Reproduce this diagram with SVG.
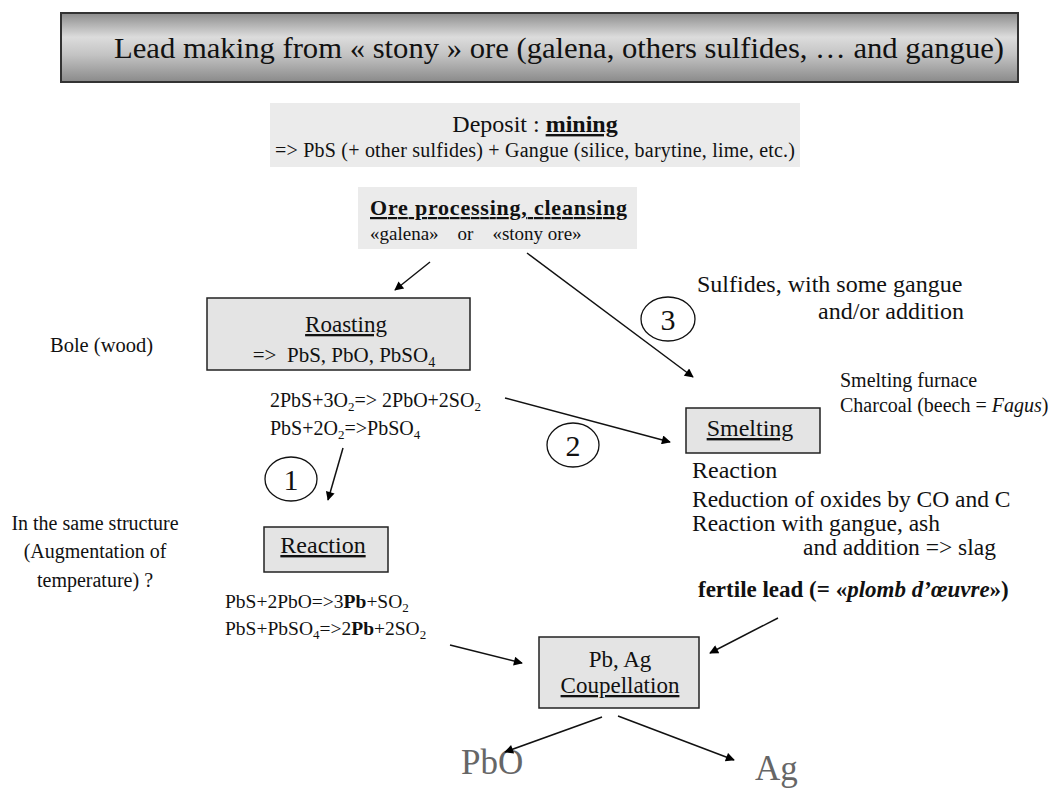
<svg xmlns="http://www.w3.org/2000/svg" width="1055" height="789" viewBox="0 0 1055 789">
<defs>
<linearGradient id="tg" x1="0" y1="0" x2="0" y2="1">
<stop offset="0" stop-color="#8c8c8c"/>
<stop offset="0.35" stop-color="#dcdcdc"/>
<stop offset="0.6" stop-color="#c4c4c4"/>
<stop offset="1" stop-color="#8a8a8a"/>
</linearGradient>
<marker id="ah" viewBox="0 0 10 10" refX="9" refY="5" markerWidth="11" markerHeight="9" markerUnits="userSpaceOnUse" orient="auto">
<path d="M0,0 L10,5 L0,10 z" fill="#000"/>
</marker>
<style>
text{font-family:"Liberation Serif","Times New Roman",Times,"DejaVu Serif",serif;fill:#111}
.box{fill:#e4e4e4;stroke:#222;stroke-width:1.5}
.pale{fill:#ebebeb;stroke:none}
.u{text-decoration:underline}
.c{text-anchor:middle}
.conn line{stroke:#111;stroke-width:1.5;marker-end:url(#ah)}
.circ{fill:none;stroke:#111;stroke-width:1.3}
.grey{fill:#666}
</style>
</defs>
<rect width="1055" height="789" fill="#fff"/>

<g id="title">
<rect x="61" y="13" width="957" height="69" fill="url(#tg)" stroke="#333" stroke-width="2"/>
<text x="559" y="58" class="c" font-family="Liberation Serif, serif" font-size="30" textLength="890" lengthAdjust="spacingAndGlyphs">Lead making from « stony » ore (galena, others sulfides, … and gangue)</text>
</g>

<g id="deposit">
<rect class="pale" x="270" y="103" width="530" height="64"/>
<text x="535" y="132" class="c" font-family="Liberation Serif, serif" font-size="24">Deposit : <tspan font-weight="bold" class="u">mining</tspan></text>
<text x="535" y="157" class="c" font-family="Liberation Serif, serif" font-size="20" textLength="520">=&gt; PbS (+ other sulfides) + Gangue (silice, barytine, lime, etc.)</text>
</g>

<g id="ore">
<rect class="pale" x="358" y="187" width="279" height="62"/>
<text x="370" y="215" font-family="Liberation Serif, serif" font-size="22" font-weight="bold" class="u" textLength="257">Ore processing, cleansing</text>
<text x="370" y="240" font-family="Liberation Serif, serif" font-size="19" xml:space="preserve">«galena»    or    «stony ore»</text>
</g>

<g id="roasting">
<rect class="box" x="207" y="298" width="263" height="72"/>
<text x="346" y="332" class="c u" font-family="Liberation Serif, serif" font-size="23">Roasting</text>
<text x="344" y="362" class="c" font-family="Liberation Serif, serif" font-size="21" xml:space="preserve">=&gt;  PbS, PbO, PbSO<tspan font-size="14" dy="5">4</tspan></text>
</g>

<g id="bole">
<text x="50" y="352" font-family="Liberation Serif, serif" font-size="20.5">Bole (wood)</text>
</g>

<g id="roast-eq">
<text x="270" y="407" font-family="Liberation Serif, serif" font-size="20">2PbS+3O<tspan font-size="13" dy="4">2</tspan><tspan dy="-4">=&gt; 2PbO+2SO</tspan><tspan font-size="13" dy="4">2</tspan></text>
<text x="270" y="435" font-family="Liberation Serif, serif" font-size="20">PbS+2O<tspan font-size="13" dy="4">2</tspan><tspan dy="-4">=&gt;PbSO</tspan><tspan font-size="13" dy="4">4</tspan></text>
</g>

<g id="step1">
<ellipse class="circ" cx="291" cy="479" rx="26" ry="22"/>
<text x="291" y="490" class="c" font-family="Liberation Serif, serif" font-size="30">1</text>
</g>
<g id="step2">
<ellipse class="circ" cx="573" cy="445" rx="26" ry="22"/>
<text x="573" y="456" class="c" font-family="Liberation Serif, serif" font-size="30">2</text>
</g>
<g id="step3">
<ellipse class="circ" cx="668" cy="319" rx="27" ry="22"/>
<text x="668" y="330" class="c" font-family="Liberation Serif, serif" font-size="30">3</text>
</g>

<g id="sulfides">
<text x="697" y="292" font-family="Liberation Serif, serif" font-size="24">Sulfides, with some gangue</text>
<text x="964" y="319" font-family="Liberation Serif, serif" font-size="24" text-anchor="end">and/or addition</text>
</g>

<g id="furnace">
<text x="840" y="387" font-family="Liberation Serif, serif" font-size="20">Smelting furnace</text>
<text x="840" y="412" font-family="Liberation Serif, serif" font-size="20">Charcoal (beech = <tspan font-style="italic">Fagus</tspan>)</text>
</g>

<g id="smelting">
<rect class="box" x="686" y="408" width="134" height="45"/>
<text x="750" y="436" class="c u" font-family="Liberation Serif, serif" font-size="24">Smelting</text>
</g>

<g id="smelt-reaction">
<text x="692" y="478" font-family="Liberation Serif, serif" font-size="24">Reaction</text>
<text x="692" y="507" font-family="Liberation Serif, serif" font-size="23.5">Reduction of oxides by CO and C</text>
<text x="692" y="531" font-family="Liberation Serif, serif" font-size="23.5">Reaction with gangue, ash</text>
<text x="803" y="555" font-family="Liberation Serif, serif" font-size="23.5">and addition =&gt; slag</text>
</g>

<g id="fertile">
<text x="698" y="597" font-family="Liberation Serif, serif" font-size="23" font-weight="bold">fertile lead (= «<tspan font-style="italic">plomb d’œuvre</tspan>»)</text>
</g>

<g id="reaction">
<rect class="box" x="264" y="527" width="124" height="45"/>
<text x="323" y="553" class="c u" font-family="Liberation Serif, serif" font-size="24">Reaction</text>
</g>

<g id="same">
<text x="95" y="530" class="c" font-family="Liberation Serif, serif" font-size="20">In the same structure</text>
<text x="95" y="558" class="c" font-family="Liberation Serif, serif" font-size="20">(Augmentation of</text>
<text x="95" y="587" class="c" font-family="Liberation Serif, serif" font-size="20">temperature) ?</text>
</g>

<g id="reaction-eq">
<text x="225" y="608" font-family="Liberation Serif, serif" font-size="19.5">PbS+2PbO=&gt;3<tspan font-weight="bold">Pb</tspan>+SO<tspan font-size="13" dy="4">2</tspan></text>
<text x="225" y="635" font-family="Liberation Serif, serif" font-size="19.5">PbS+PbSO<tspan font-size="13" dy="4">4</tspan><tspan dy="-4">=&gt;2</tspan><tspan font-weight="bold">Pb</tspan>+2SO<tspan font-size="13" dy="4">2</tspan></text>
</g>

<g id="coupellation">
<rect class="box" x="539" y="637" width="160" height="71"/>
<text x="620" y="667" class="c" font-family="Liberation Serif, serif" font-size="23">Pb, Ag</text>
<text x="620" y="693" class="c u" font-family="Liberation Serif, serif" font-size="23">Coupellation</text>
</g>

<g id="pbo">
<text x="461" y="774" class="grey" font-family="Liberation Serif, serif" font-size="35">PbO</text>
</g>
<g id="ag">
<text x="755" y="780" class="grey" font-family="Liberation Serif, serif" font-size="35">Ag</text>
</g>

<g id="connectors" class="conn">
<line x1="430" y1="262" x2="395" y2="290"/>
<line x1="527" y1="253" x2="693" y2="377"/>
<line x1="505" y1="398" x2="670" y2="442"/>
<line x1="343" y1="448" x2="328" y2="500"/>
<line x1="450" y1="645" x2="522" y2="663"/>
<line x1="778" y1="618" x2="710" y2="653"/>
<line x1="602" y1="717" x2="505" y2="752"/>
<line x1="618" y1="716" x2="734" y2="760"/>
</g>
</svg>
